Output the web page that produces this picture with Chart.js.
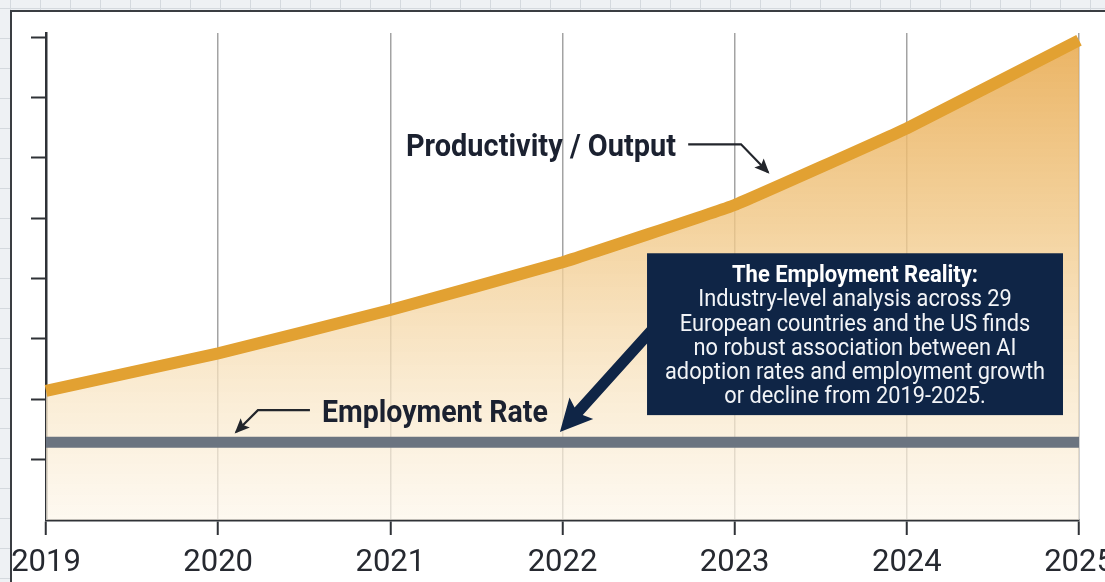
<!DOCTYPE html>
<html lang="en">

<head>
    <meta charset="UTF-8">
    <title>Productivity vs Employment</title>
    <script src="https://cdn.jsdelivr.net/npm/chart.js"></script>
    <style>
        html, body {
            margin: 0;
            padding: 0;
            width: 1105px;
            height: 582px;
            overflow: hidden;
            background-color: #eef1f4;
            background-image:
                linear-gradient(to right, #d4d9de 1px, transparent 1px),
                linear-gradient(to bottom, #d4d9de 1px, transparent 1px);
            background-size: 30px 30px;
            background-position: 10px 8px;
        }

        .panel {
            position: absolute;
            left: 10px;
            top: 10px;
            width: 1105px;
            height: 582px;
            background: #ffffff;
            border-left: 2px solid #3a3d42;
            border-top: 2px solid #3a3d42;
        }

        #chart {
            position: absolute;
            left: 0;
            top: 0;
        }
    </style>
</head>

<body>
    <div class="panel"></div>
    <canvas id="chart" width="1105" height="582"></canvas>

    <script>
        // values (y axis has no labels, ticks only)
        const years = ['2019', '2020', '2021', '2022', '2023', '2024', '2025'];
        const productivity = [2.14, 2.76, 3.48, 4.27, 5.22, 6.49, 7.95];
        const employment = [1.29, 1.29, 1.29, 1.29, 1.29, 1.29, 1.29];
        const yTicks = [1, 2, 3, 4, 5, 6, 7, 8];
        const yMin = 0;
        const yMax = 8.07;

        const calloutTitle = 'The Employment Reality:';
        const calloutLines = [
            'Industry-level analysis across 29',
            'European countries and the US finds',
            'no robust association between AI',
            'adoption rates and employment growth',
            'or decline from 2019-2025.'
        ];

        const ink = '#1b2130';
        const navy = '#0f2546';

        // draws a string squeezed horizontally to a given width (condensed look)
        function squeezeText(ctx, str, x, y, font, width, color) {
            ctx.save();
            ctx.font = font;
            const w = ctx.measureText(str).width;
            ctx.translate(x, y);
            ctx.scale(width / w, 1);
            ctx.fillStyle = color;
            ctx.textAlign = 'center';
            ctx.textBaseline = 'alphabetic';
            ctx.fillText(str, 0, 0);
            ctx.restore();
        }

        function thinArrow(ctx, pts) {
            ctx.save();
            ctx.strokeStyle = '#23262c';
            ctx.fillStyle = '#23262c';
            ctx.lineWidth = 2.2;
            ctx.beginPath();
            ctx.moveTo(pts[0][0], pts[0][1]);
            for (let i = 1; i < pts.length; i++) ctx.lineTo(pts[i][0], pts[i][1]);
            ctx.stroke();
            const a = pts[pts.length - 2], b = pts[pts.length - 1];
            const ang = Math.atan2(b[1] - a[1], b[0] - a[0]);
            ctx.translate(b[0], b[1]);
            ctx.rotate(ang);
            ctx.beginPath();
            ctx.moveTo(2, 0);
            ctx.lineTo(-13, -6.5);
            ctx.lineTo(-10, 0);
            ctx.lineTo(-13, 6.5);
            ctx.closePath();
            ctx.fill();
            ctx.restore();
        }

        const annotations = {
            id: 'annotations',
            afterDatasetsDraw(chart) {
                const ctx = chart.ctx;
                const xs = chart.scales.x, ys = chart.scales.y;
                const px = i => xs.getPixelForValue(i);
                const py = v => ys.getPixelForValue(v);

                // Productivity / Output label + arrow
                squeezeText(ctx, 'Productivity / Output', px(2.875), py(6.03), 'bold 31px Roboto', 270, ink);
                thinArrow(ctx, [[px(3.73), py(6.225)], [px(4.037), py(6.225)], [px(4.194), py(5.762)]]);

                // Employment Rate label + arrow
                squeezeText(ctx, 'Employment Rate', px(2.259), py(1.63), 'bold 31px Roboto', 226, ink);
                thinArrow(ctx, [[px(1.533), py(1.82)], [px(1.231), py(1.82)], [px(1.104), py(1.457)]]);

                // navy pointer from the callout to the employment line
                const tail = [px(3.52), py(3.15)], tip = [px(2.985), py(1.457)];
                const ang = Math.atan2(tip[1] - tail[1], tip[0] - tail[0]);
                const len = Math.hypot(tip[0] - tail[0], tip[1] - tail[1]);
                ctx.save();
                ctx.translate(tail[0], tail[1]);
                ctx.rotate(ang);
                ctx.fillStyle = navy;
                ctx.beginPath();
                ctx.moveTo(0, -5.5);
                ctx.lineTo(len - 28, -5.5);
                ctx.lineTo(len - 32, -16);
                ctx.lineTo(len, 0);
                ctx.lineTo(len - 32, 16);
                ctx.lineTo(len - 28, 5.5);
                ctx.lineTo(0, 5.5);
                ctx.closePath();
                ctx.fill();
                ctx.restore();

                // callout box
                const bx0 = px(3.491), bx1 = px(5.907), by0 = py(4.42), by1 = py(1.738);
                ctx.save();
                ctx.fillStyle = navy;
                ctx.fillRect(bx0, by0, bx1 - bx0, by1 - by0);
                ctx.restore();
                const cx = (bx0 + bx1) / 2;
                squeezeText(ctx, calloutTitle, cx, by0 + 29, 'bold 24px Roboto', 246, '#ffffff');
                ctx.font = '24px Roboto';
                const k = 380 / ctx.measureText(calloutLines[3]).width;
                calloutLines.forEach((line, i) => {
                    ctx.font = '24px Roboto';
                    const w = ctx.measureText(line).width * k;
                    squeezeText(ctx, line, cx, by0 + 53 + i * 24.3, '24px Roboto', w, '#f2f4f7');
                });
            }
        };

        const ctx = document.getElementById('chart');

        const chart = new Chart(ctx, {
            type: 'line',
            data: {
                labels: years,
                datasets: [
                    {
                        label: 'Employment Rate',
                        data: employment,
                        borderColor: '#6b7480',
                        borderWidth: 11,
                        pointRadius: 0,
                        fill: false
                    },
                    {
                        label: 'Productivity / Output',
                        data: productivity,
                        borderColor: '#e2a132',
                        borderWidth: 12,
                        pointRadius: 0,
                        tension: 0.08,
                        fill: 'origin',
                        backgroundColor: (c) => {
                            const area = c.chart.chartArea;
                            if (!area) return 'rgba(240,190,110,0.5)';
                            const g = c.chart.ctx.createLinearGradient(0, area.top, 0, area.bottom);
                            g.addColorStop(0, 'rgba(232,170,80,0.9)');
                            g.addColorStop(0.4, 'rgba(241,200,135,0.8)');
                            g.addColorStop(0.75, 'rgba(249,231,200,0.75)');
                            g.addColorStop(1, 'rgba(253,246,234,0.7)');
                            return g;
                        }
                    }
                ]
            },
            options: {
                responsive: false,
                animation: false,
                layout: {
                    padding: { left: 31, right: 26, top: 33, bottom: 0 }
                },
                plugins: {
                    legend: { display: false },
                    tooltip: { enabled: false }
                },
                scales: {
                    x: {
                        offset: false,
                        grid: {
                            color: '#a3a3a3',
                            lineWidth: 1.5,
                            drawTicks: true,
                            tickLength: 15,
                            tickColor: '#2f3237',
                            tickWidth: 2
                        },
                        border: { color: '#2f3237', width: 2.5 },
                        ticks: {
                            color: '#262930',
                            padding: 13,
                            maxRotation: 0,
                            autoSkip: false,
                            font: { family: "'Liberation Sans Narrow', Roboto", size: 31, lineHeight: 1 }
                        },
                        afterFit: (s) => { s.paddingLeft = 0; s.paddingRight = 0; s.height = 62; }
                    },
                    y: {
                        min: yMin,
                        max: yMax,
                        afterBuildTicks: (s) => { s.ticks = yTicks.map(v => ({ value: v })); },
                        grid: {
                            drawOnChartArea: false,
                            drawTicks: true,
                            tickLength: 15,
                            tickColor: '#2f3237',
                            tickWidth: 2
                        },
                        border: { color: '#2f3237', width: 2.5 },
                        ticks: { display: false }
                    }
                }
            },
            plugins: [annotations]
        });
    </script>
</body>

</html>
